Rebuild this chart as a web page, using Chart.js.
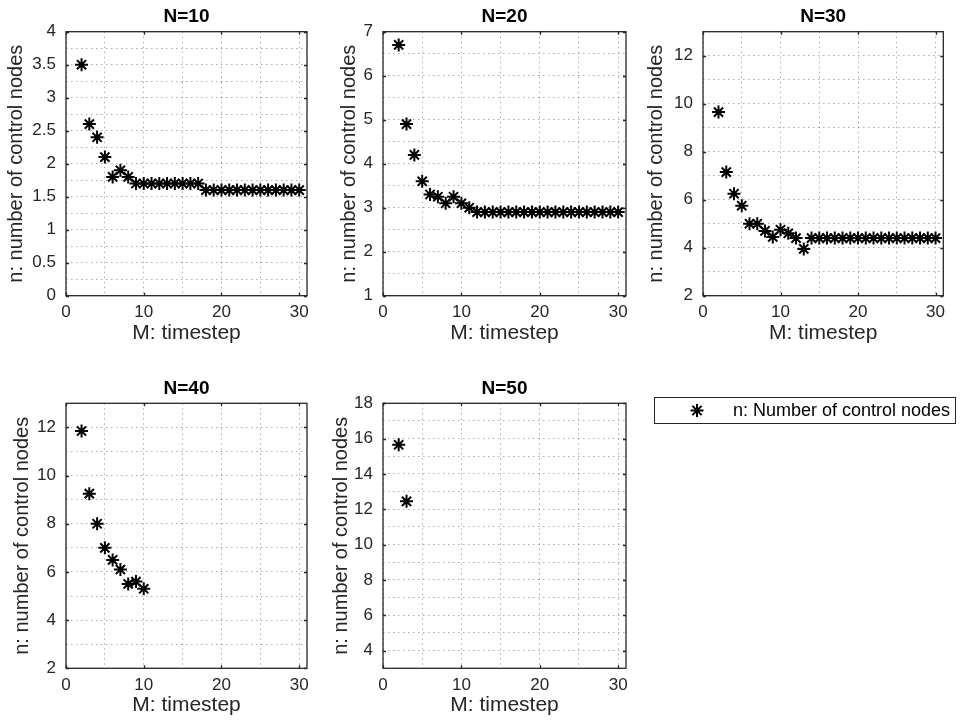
<!DOCTYPE html>
<html><head><meta charset="utf-8">
<script src="https://cdn.jsdelivr.net/npm/chart.js@4/dist/chart.umd.min.js"></script>
<style>
html,body{margin:0;padding:0;background:#fff;}
#wrap{position:relative;width:960px;height:720px;overflow:hidden;background:#fff;}
canvas{position:absolute;}
</style></head><body>
<div id="wrap">
<canvas id="c10" width="320" height="360" style="left:0px;top:0px"></canvas>
<canvas id="c20" width="320" height="360" style="left:320px;top:0px"></canvas>
<canvas id="c30" width="320" height="360" style="left:640px;top:0px"></canvas>
<canvas id="c40" width="320" height="350" style="left:0px;top:370px"></canvas>
<canvas id="c50" width="640" height="350" style="left:320px;top:370px"></canvas>
</div>
<script>
// ---- data ----
const timesteps = [2,3,4,5,6,7,8,9,10,11,12,13,14,15,16,17,18,19,20,21,22,23,24,25,26,27,28,29,30];
const n10 = [3.5,2.6,2.4,2.1,1.8,1.9,1.8,1.7,1.7,1.7,1.7,1.7,1.7,1.7,1.7,1.7,1.6,1.6,1.6,1.6,1.6,1.6,1.6,1.6,1.6,1.6,1.6,1.6,1.6];
const n20 = [6.7,4.9,4.2,3.6,3.3,3.25,3.1,3.25,3.1,3.0,2.9,2.9,2.9,2.9,2.9,2.9,2.9,2.9,2.9,2.9,2.9,2.9,2.9,2.9,2.9,2.9,2.9,2.9,2.9];
const n30 = [9.65,7.15,6.25,5.75,5.0,5.0,4.7,4.45,4.75,4.6,4.4,3.95,4.4,4.4,4.4,4.4,4.4,4.4,4.4,4.4,4.4,4.4,4.4,4.4,4.4,4.4,4.4,4.4,4.4];
const n40 = [11.85,9.25,8.0,7.0,6.5,6.1,5.5,5.6,5.3];
const n50 = [15.65,12.45];

const titles = ["N=10","N=20","N=30","N=40","N=50"];
const xTickLabels = [0,10,20,30];
const xGridValues = [0,5,10,15,20,25,30];
const yTicks10 = [0,0.5,1,1.5,2,2.5,3,3.5,4];
const yGrid10  = [0,0.25,0.5,0.75,1,1.25,1.5,1.75,2,2.25,2.5,2.75,3,3.25,3.5,3.75,4];
const yTicks20 = [1,2,3,4,5,6,7];
const yGrid20  = [1,1.5,2,2.5,3,3.5,4,4.5,5,5.5,6,6.5,7];
const yTicks30 = [2,4,6,8,10,12];
const yGrid30  = [2,3,4,5,6,7,8,9,10,11,12,13];
const yTicks40 = [2,4,6,8,10,12];
const yGrid40  = [2,3,4,5,6,7,8,9,10,11,12,13];
const yTicks50 = [4,6,8,10,12,14,16,18];
const yGrid50  = [3,4,5,6,7,8,9,10,11,12,13,14,15,16,17,18];
const legendLabel = "n: Number of control nodes";
const xTitle = "M: timestep";
const yTitle = "n: number of control nodes";

// ---- drawing ----
const FONT = "'Liberation Sans', Arial, Helvetica, sans-serif";
const AXC = '#262626';

function makeChart(id, values, yMin, yMax, yTicks, yGrid, title, g, extraPlugin) {
  const pts = values.map((v, i) => ({x: timesteps[i], y: v}));
  const boxPlugin = {
    id: 'boxticks',
    beforeDatasetsDraw(chart) {
      const {ctx, chartArea: a, scales: {x, y}} = chart;
      ctx.save();
      ctx.strokeStyle = AXC;
      ctx.lineWidth = 1.3;
      ctx.beginPath();
      const tl = 3;
      xTickLabels.forEach(v => {
        const px = Math.round(x.getPixelForValue(v)) + 0.5;
        ctx.moveTo(px, a.bottom); ctx.lineTo(px, a.bottom - tl);
        ctx.moveTo(px, a.top); ctx.lineTo(px, a.top + tl);
      });
      yTicks.forEach(v => {
        const py = Math.round(y.getPixelForValue(v)) + 0.5;
        ctx.moveTo(a.left, py); ctx.lineTo(a.left + tl, py);
        ctx.moveTo(a.right, py); ctx.lineTo(a.right - tl, py);
      });
      ctx.stroke();
      ctx.strokeRect(a.left, a.top, a.right - a.left, a.bottom - a.top);
      ctx.restore();
    }
  };
  const plugins = [boxPlugin];
  if (extraPlugin) plugins.push(extraPlugin);
  return new Chart(document.getElementById(id), {
    type: 'scatter',
    data: {datasets: [{
      label: legendLabel,
      data: pts,
      pointStyle: 'star',
      pointRadius: 6.5,
      borderColor: '#000',
      backgroundColor: '#000',
      borderWidth: 2,
      showLine: false
    }]},
    options: {
      responsive: false,
      animation: false,
      events: [],
      layout: {padding: {left: g.padLeft, right: g.padRight, top: 0, bottom: g.padBottom}},
      plugins: {
        legend: {display: false},
        tooltip: {enabled: false},
        title: {
          display: true, text: title, fullSize: false,
          color: '#000',
          font: {family: FONT, size: 19, weight: 'bold', lineHeight: 1.2},
          padding: {top: g.titleTop, bottom: g.titleBottom}
        }
      },
      scales: {
        x: {
          type: 'linear', min: 0, max: 31,
          afterBuildTicks: s => { s.ticks = xGridValues.map(v => ({value: v})); },
          afterFit: s => { s.height = 50; },
          ticks: {
            autoSkip: false, maxRotation: 0, padding: 6.5, color: AXC,
            font: {family: FONT, size: 17},
            callback: v => xTickLabels.includes(v) ? String(v) : ''
          },
          grid: {color: 'rgba(0,0,0,0.32)', lineWidth: 1, drawTicks: false},
          border: {display: false, dash: [1.5, 3.5]},
          title: {display: true, text: xTitle, color: AXC,
            font: {family: FONT, size: 21, lineHeight: 1.2}, padding: {top: 0, bottom: 0}}
        },
        y: {
          type: 'linear', min: yMin, max: yMax,
          afterBuildTicks: s => { s.ticks = yGrid.map(v => ({value: v})); },
          afterFit: s => { s.width = g.L - g.padLeft; },
          ticks: {
            autoSkip: false, padding: 10, color: AXC,
            font: {family: FONT, size: 17},
            callback: v => yTicks.includes(v) ? String(v) : ''
          },
          grid: {color: 'rgba(0,0,0,0.32)', lineWidth: 1, drawTicks: false},
          border: {display: false, dash: [1.5, 3.5]},
          title: {display: true, text: yTitle, color: AXC,
            font: {family: FONT, size: 20, lineHeight: 1.2}, padding: {top: 4, bottom: 0}}
        }
      }
    },
    plugins: plugins
  });
}

const topG = (L, R, cw) => ({L: L, padLeft: 0, padRight: cw - R, padBottom: 360 - 295.7 - 50, titleTop: 4.9, titleBottom: 4.0});
const botG = (L, R, cw) => ({L: L, padLeft: 0, padRight: cw - R, padBottom: 350 - 298.3 - 50, titleTop: 7.8, titleBottom: 2.7});

const g1 = topG(66, 307, 320); g1.padLeft = 0;
const g2 = topG(63, 306, 320); g2.padLeft = 13;
const g3 = topG(63, 303.3, 320); g3.padLeft = 0;
const g4 = botG(66, 307, 320); g4.padLeft = 6.5;
const g5 = botG(63, 306, 640); g5.padLeft = 5;

makeChart('c10', n10, 0, 4, yTicks10, yGrid10, titles[0], g1);
makeChart('c20', n20, 1, 7, yTicks20, yGrid20, titles[1], g2);
makeChart('c30', n30, 2, 13, yTicks30, yGrid30, titles[2], g3);
makeChart('c40', n40, 2, 13, yTicks40, yGrid40, titles[3], g4);
makeChart('c50', n50, 3, 18, yTicks50, yGrid50, titles[4], g5, {
  id: 'sideLegend',
  afterDraw(chart) {
    const ctx = chart.ctx;
    ctx.save();
    ctx.fillStyle = '#fff';
    ctx.fillRect(334, 27, 301, 26);
    ctx.strokeStyle = AXC;
    ctx.lineWidth = 1;
    ctx.strokeRect(334.5, 27.5, 301, 26);
    ctx.strokeStyle = '#000';
    ctx.fillStyle = '#000';
    ctx.lineWidth = 2;
    Chart.helpers.drawPoint(ctx, {pointStyle: 'star', radius: 6.5, borderWidth: 2}, 377, 40.5);
    ctx.font = "18px " + FONT;
    ctx.textAlign = 'left';
    ctx.textBaseline = 'middle';
    ctx.fillText(legendLabel, 413, 41);
    ctx.restore();
  }
});
</script>
</body></html>
